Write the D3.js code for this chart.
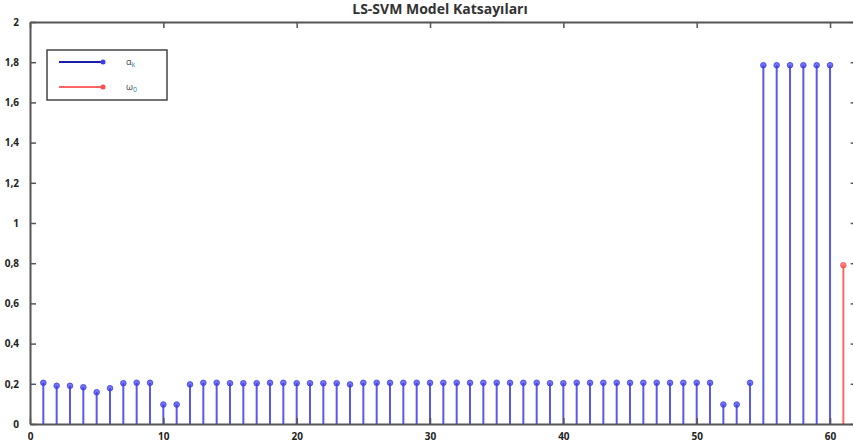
<!DOCTYPE html>
<html><head><meta charset="utf-8">
<script src="https://cdn.jsdelivr.net/npm/d3@7"></script>
<style>body{margin:0;background:#fff}svg{display:block}</style>
</head><body>
<svg id="c" width="853" height="446"></svg>
<script>
const title = "LS-SVM Model Katsayıları";
const alphaIdx = d3.range(1, 61);
const alphaVals = [0.205,0.19,0.19,0.183,0.158,0.178,0.203,0.205,0.205,0.097,
  0.097,0.197,0.205,0.205,0.203,0.203,0.203,0.205,0.205,0.203,
  0.203,0.203,0.203,0.197,0.205,0.205,0.205,0.205,0.205,0.205,
  0.205,0.205,0.205,0.205,0.205,0.205,0.205,0.205,0.203,0.203,
  0.205,0.205,0.205,0.205,0.205,0.205,0.205,0.205,0.205,0.205,
  0.205,0.097,0.097,0.205,1.785,1.785,1.785,1.785,1.785,1.785];
const biasIdx = [61];
const biasVals = [0.79];
const xTicks = [0,10,20,30,40,50,60];
const yTicks = [0,0.2,0.4,0.6,0.8,1,1.2,1.4,1.6,1.8,2];
const legendLabels = [["α","k"],["ω","0"]];

const svg = d3.select("#c");
const x = d3.scaleLinear().domain([0,62]).range([30,856.7]);
const y = d3.scaleLinear().domain([0,2]).range([424,22]);
const fmt = v => String(v).replace(".", ",");
const axisCol = "#555";
const font = "'Open Sans', 'DejaVu Sans', sans-serif";

// title
svg.append("text").attr("x",440).attr("y",14).attr("text-anchor","middle")
  .attr("font-family",font).attr("font-weight","bold").attr("font-size",14)
  .attr("fill","#333").text(title);

// stems
const blue = "#3c3ce8", red = "#ff4c4c";
const aData = alphaIdx.map((k,i)=>({k,v:alphaVals[i]}));
const bData = biasIdx.map((k,i)=>({k,v:biasVals[i]}));
function stems(data,col){
  const g = svg.append("g");
  g.selectAll("line").data(data).join("line")
    .attr("x1",d=>x(d.k)).attr("x2",d=>x(d.k))
    .attr("y1",y(0)).attr("y2",d=>y(d.v))
    .attr("stroke",col).attr("stroke-width",2).attr("stroke-opacity",0.85);
  g.selectAll("circle").data(data).join("circle")
    .attr("cx",d=>x(d.k)).attr("cy",d=>y(d.v)).attr("r",2.8)
    .attr("fill",col).attr("stroke",col).attr("stroke-width",0.8).attr("fill-opacity",0.7);
}
stems(aData,blue);
stems(bData,red);

// axes
const axB = d3.axisBottom(x).tickValues(xTicks).tickSizeInner(-6).tickSizeOuter(0).tickPadding(9).tickFormat(fmt);
const axT = d3.axisTop(x).tickValues(xTicks).tickSizeInner(-6).tickSizeOuter(0).tickFormat("");
const axL = d3.axisLeft(y).tickValues(yTicks).tickSizeInner(-6).tickSizeOuter(0).tickPadding(11).tickFormat(fmt);
const axR = d3.axisRight(y).tickValues(yTicks).tickSizeInner(-6).tickSizeOuter(0).tickFormat("");
function style(g){
  g.selectAll("path").attr("stroke",axisCol).attr("stroke-width",2);
  g.selectAll("line").attr("stroke",axisCol).attr("stroke-width",1.5);
  g.selectAll("text").attr("font-family",font).attr("font-weight","bold")
    .attr("font-size",10).attr("fill","#222");
}
svg.append("g").attr("transform",`translate(0,${y(0)})`).call(axB).call(style);
svg.append("g").attr("transform",`translate(0,${y(2)})`).call(axT).call(style);
svg.append("g").attr("transform",`translate(${x(0)},0)`).call(axL).call(style);
svg.append("g").attr("transform",`translate(${x(62)},0)`).call(axR).call(style);

// legend
const lg = svg.append("g");
lg.append("rect").attr("x",47).attr("y",50).attr("width",120).attr("height",50)
  .attr("fill","#fff").attr("stroke","#444").attr("stroke-width",1.5);
[["#1c1caa","#3c3ce8",62],["#ff6464","#ff4c4c",87]].forEach(([c,m,yy],i)=>{
  lg.append("line").attr("x1",59).attr("x2",103).attr("y1",yy).attr("y2",yy)
    .attr("stroke",c).attr("stroke-width",2);
  lg.append("circle").attr("cx",103).attr("cy",yy).attr("r",2.5).attr("fill",m);
  const t = lg.append("text").attr("x",126).attr("y",yy+3)
    .attr("font-family",font).attr("font-size",9).attr("fill","#444");
  t.append("tspan").text(legendLabels[i][0]);
  t.append("tspan").attr("dy",2).attr("font-size",7).attr("fill","#2a8a98").text(legendLabels[i][1]);
});
</script>
</body></html>
